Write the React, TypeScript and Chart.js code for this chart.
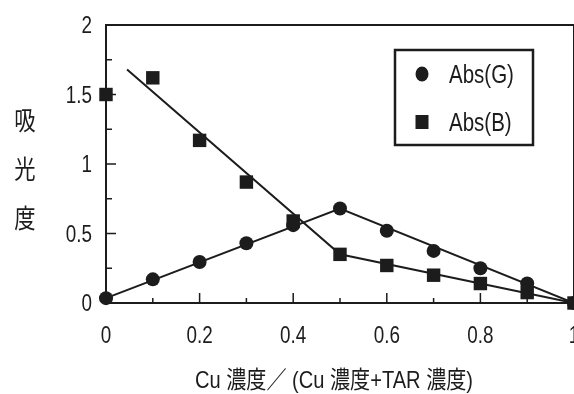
import React, { useEffect, useRef } from 'react';
import { Chart, registerables } from 'chart.js';

Chart.register(...registerables);

// ---- data ----
const ratios = [0, 0.1, 0.2, 0.3, 0.4, 0.5, 0.6, 0.7, 0.8, 0.9, 1.0];
const absG = [0.035, 0.17, 0.295, 0.43, 0.56, 0.68, 0.52, 0.375, 0.25, 0.14, 0];
const absB = [1.5, 1.62, 1.17, 0.87, 0.59, 0.35, 0.27, 0.2, 0.14, 0.075, 0];
const fitGX = [0, 0.5, 1.0];
const fitGY = [0.035, 0.68, 0];
const fitBX = [0.045, 0.5, 1.0];
const fitBY = [1.68, 0.35, 0];
const xTickValues = [0, 0.2, 0.4, 0.6, 0.8, 1.0];
const yTickValues = [0, 0.5, 1, 1.5, 2];
const xMinorTicks = [0.1, 0.3, 0.5, 0.7, 0.9];
const yMinorTicks = [0.25, 0.75, 1.25, 1.75];
const seriesNames = ['Abs(G)', 'Abs(B)'];
const yTitleChars = ['吸', '光', '度'];
const xTitle = 'Cu 濃度／ (Cu 濃度+TAR 濃度)';

const INK = '#1c1c1c';
const SANS = "'Liberation Sans', Arial, sans-serif";
const CJK = "'Liberation Sans', 'Noto Sans CJK JP', sans-serif";
const CONDENSE = 0.82;

const fmt = (v: number) => String(Number(v.toFixed(2)));

function condensedText(ctx: CanvasRenderingContext2D, text: string, x: number, y: number, sx: number) {
  ctx.save();
  ctx.translate(x, y);
  ctx.scale(sx, 1);
  ctx.fillText(text, 0, 0);
  ctx.restore();
}

const framePlugin = {
  id: 'frame',
  beforeDatasetsDraw(chart: any) {
    const { ctx, chartArea: a, scales } = chart;
    const x = scales.x;
    const y = scales.y;
    ctx.save();
    ctx.strokeStyle = INK;
    ctx.lineWidth = 2;
    ctx.strokeRect(a.left, a.top, a.right - a.left, a.bottom - a.top);
    ctx.lineWidth = 1.5;
    ctx.beginPath();
    xTickValues.forEach((v) => {
      const px = x.getPixelForValue(v);
      ctx.moveTo(px, a.bottom);
      ctx.lineTo(px, a.bottom - 10);
    });
    xMinorTicks.forEach((v) => {
      const px = x.getPixelForValue(v);
      ctx.moveTo(px, a.bottom);
      ctx.lineTo(px, a.bottom - 5);
    });
    yTickValues.forEach((v) => {
      const py = y.getPixelForValue(v);
      ctx.moveTo(a.left, py);
      ctx.lineTo(a.left + 10, py);
    });
    yMinorTicks.forEach((v) => {
      const py = y.getPixelForValue(v);
      ctx.moveTo(a.left, py);
      ctx.lineTo(a.left + 6, py);
    });
    ctx.stroke();

    // tick labels (condensed)
    ctx.fillStyle = INK;
    ctx.font = `23px ${SANS}`;
    ctx.textBaseline = 'alphabetic';
    ctx.textAlign = 'center';
    xTickValues.forEach((v) => {
      condensedText(ctx, fmt(v), x.getPixelForValue(v), a.bottom + 40, CONDENSE);
    });
    ctx.textAlign = 'right';
    yTickValues.forEach((v) => {
      condensedText(ctx, fmt(v), a.left - 14, y.getPixelForValue(v) + 8, CONDENSE);
    });
    ctx.restore();
  },
  afterDraw(chart: any) {
    const { ctx } = chart;
    ctx.save();
    ctx.fillStyle = INK;
    // y title, stacked vertically
    ctx.font = "26px 'Noto Sans CJK JP', sans-serif";
    ctx.textAlign = 'center';
    ctx.textBaseline = 'middle';
    const ys = [120, 169, 218];
    yTitleChars.forEach((ch, i) => condensedText(ctx, ch, 25, ys[i], 0.82));
    // x title, condensed
    ctx.font = `24px ${CJK}`;
    const w = ctx.measureText(xTitle).width;
    condensedText(ctx, xTitle, 334, 381, 278 / w);

    // legend
    const bx = 395, by = 50, bw = 138, bh = 95;
    ctx.fillStyle = '#ffffff';
    ctx.fillRect(bx, by, bw, bh);
    ctx.strokeStyle = INK;
    ctx.lineWidth = 2.5;
    ctx.strokeRect(bx, by, bw, bh);
    ctx.fillStyle = INK;
    ctx.font = `25px ${SANS}`;
    ctx.textAlign = 'left';
    ctx.textBaseline = 'alphabetic';
    const rows = [74, 122];
    seriesNames.forEach((name, i) => {
      const ds = chart.data.datasets.find((d: any) => d.label === name);
      const cy = rows[i];
      if (ds && ds.pointStyle === 'circle') {
        ctx.beginPath();
        ctx.ellipse(422, cy, 6.5, 7.5, 0, 0, Math.PI * 2);
        ctx.fill();
      } else {
        ctx.fillRect(422 - 6.5, cy - 7, 13, 14);
      }
      condensedText(ctx, name, 449, cy + 9, CONDENSE);
    });
    ctx.restore();
  },
};

export default function App() {
  const ref = useRef<HTMLCanvasElement | null>(null);

  useEffect(() => {
    if (!ref.current) return;
    const chart = new Chart(ref.current, {
      type: 'scatter',
      data: {
        datasets: [
          {
            label: seriesNames[1],
            data: ratios.map((r, i) => ({ x: r, y: absB[i] })),
            pointStyle: 'rect',
            pointRadius: 9.5,
            pointHoverRadius: 9.5,
            backgroundColor: INK,
            borderColor: INK,
            borderWidth: 0,
            showLine: false,
            clip: false,
          } as any,
          {
            label: seriesNames[0],
            data: ratios.map((r, i) => ({ x: r, y: absG[i] })),
            pointStyle: 'circle',
            pointRadius: 7,
            pointHoverRadius: 7,
            backgroundColor: INK,
            borderColor: INK,
            borderWidth: 0,
            showLine: false,
            clip: false,
          },
          {
            label: 'fitG',
            data: fitGX.map((v, i) => ({ x: v, y: fitGY[i] })),
            showLine: true,
            pointRadius: 0,
            borderColor: INK,
            borderWidth: 2,
            clip: false,
          },
          {
            label: 'fitB',
            data: fitBX.map((v, i) => ({ x: v, y: fitBY[i] })),
            showLine: true,
            pointRadius: 0,
            borderColor: INK,
            borderWidth: 2,
            clip: false,
          },
        ],
      },
      options: {
        responsive: false,
        animation: false,
        layout: { autoPadding: false, padding: { left: 0, top: 25, right: 0, bottom: 0 } },
        plugins: { legend: { display: false }, tooltip: { enabled: false } },
        events: [],
        scales: {
          x: {
            type: 'linear',
            min: 0,
            max: 1,
            grid: { display: false, drawTicks: false },
            border: { display: false },
            ticks: { display: false },
            afterBuildTicks: (s: any) => {
              s.ticks = xTickValues.map((v) => ({ value: v }));
            },
            afterFit: (s: any) => {
              s.height = 91;
              s.paddingLeft = 0;
              s.paddingRight = 0;
            },
          },
          y: {
            type: 'linear',
            min: 0,
            max: 2,
            grid: { display: false, drawTicks: false },
            border: { display: false },
            ticks: { display: false },
            afterBuildTicks: (s: any) => {
              s.ticks = yTickValues.map((v) => ({ value: v }));
            },
            afterFit: (s: any) => {
              s.width = 106;
              s.paddingTop = 0;
              s.paddingBottom = 0;
            },
          },
        },
      },
      plugins: [framePlugin],
    });
    return () => chart.destroy();
  }, []);

  return (
    <div style={{ position: 'fixed', left: 0, top: 0, width: 574, height: 394, overflow: 'hidden', background: '#fff' }}>
      <canvas ref={ref} width={574} height={394} style={{ display: 'block' }} />
    </div>
  );
}
